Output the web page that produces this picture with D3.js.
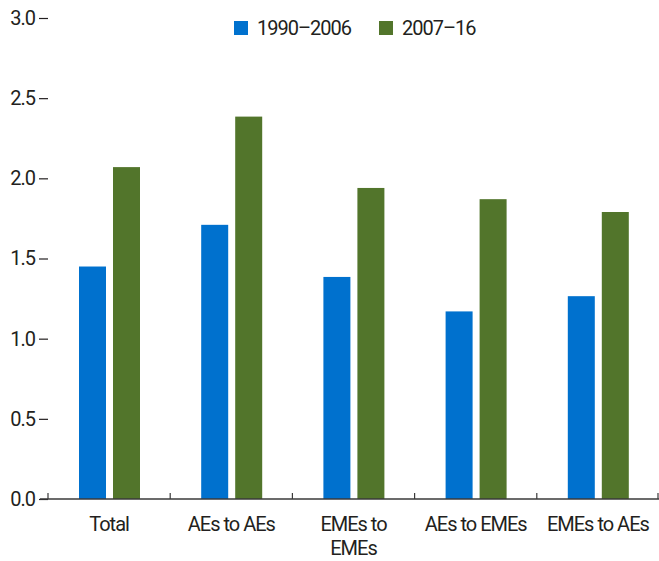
<!DOCTYPE html>
<html>
<head>
<meta charset="utf-8">
<script src="https://cdn.jsdelivr.net/npm/d3@7"></script>
<style>
  body { margin: 0; background: #fff; }
  text { font-family: "Liberation Sans Narrow", "Roboto", sans-serif; fill: #231f20; letter-spacing: -1px; }
</style>
</head>
<body>
<div id="chart"></div>
<script>
var categories = [["Total"], ["AEs to AEs"], ["EMEs to", "EMEs"], ["AEs to EMEs"], ["EMEs to AEs"]];
var series = ["1990–2006", "2007–16"];
var early = [1.45, 1.71, 1.385, 1.17, 1.265];
var late = [2.07, 2.385, 1.94, 1.87, 1.79];
var yTicks = [0, 0.5, 1, 1.5, 2, 2.5, 3];
var colors = ["#0071ce", "#52752b"];

var width = 659, height = 561;

var svg = d3.select("#chart")
    .append("svg")
        .attr("width", width)
        .attr("height", height);

var keys = categories.map(function(d) { return d.join(" "); });

var x = d3.scaleBand()
        .domain(keys)
        .range([48, 659]);

var x1 = d3.scaleBand()
        .domain(series)
        .range([31, 92])
        .paddingInner(0.206);

var y = d3.scaleLinear()
        .domain([0, 3])
        .range([499, 18]);

// y axis: labels with short dash ticks, no domain line
var yAxis = svg.append("g")
    .attr("transform", "translate(48,0)")
    .call(d3.axisLeft(y).tickValues(yTicks).tickSize(9).tickPadding(4).tickFormat(d3.format(".1f")));
yAxis.select(".domain").remove();
yAxis.selectAll(".tick line").attr("stroke", "#231f20").attr("stroke-width", 1.2);
yAxis.selectAll(".tick text").style("font-size", "20px").attr("fill", "#231f20");

// bars
var data = keys.map(function(k, i) { return {key: k, vals: [early[i], late[i]]}; });

var groups = svg.selectAll(".grp")
    .data(data)
  .enter().append("g")
    .attr("class", "grp")
    .attr("transform", function(d) { return "translate(" + x(d.key) + ",0)"; });

groups.selectAll("rect")
    .data(function(d) { return d.vals.map(function(v, j) { return {s: series[j], v: v, j: j}; }); })
  .enter().append("rect")
    .attr("x", function(d) { return x1(d.s); })
    .attr("width", x1.bandwidth())
    .attr("y", function(d) { return y(d.v); })
    .attr("height", function(d) { return y(0) - y(d.v); })
    .attr("fill", function(d) { return colors[d.j]; });

// x axis line and boundary ticks
var xg = svg.append("g");
xg.append("line")
    .attr("x1", 40).attr("x2", 659)
    .attr("y1", y(0)).attr("y2", y(0))
    .attr("stroke", "#3a3a3a").attr("stroke-width", 1.5);
xg.selectAll(".bt")
    .data(keys.concat(["end"]))
  .enter().append("line")
    .attr("x1", function(d, i) { return i < keys.length ? x(d) : x.range()[1] - 1; })
    .attr("x2", function(d, i) { return i < keys.length ? x(d) : x.range()[1] - 1; })
    .attr("y1", y(0) - 6).attr("y2", y(0))
    .attr("stroke", "#3a3a3a").attr("stroke-width", 1.2);

// category labels
var lab = svg.selectAll(".clab")
    .data(categories)
  .enter().append("text")
    .attr("class", "clab")
    .attr("text-anchor", "middle")
    .style("font-size", "20px")
    .attr("x", function(d, i) { return x(keys[i]) + x.bandwidth() / 2; })
    .attr("y", 531);
lab.selectAll("tspan")
    .data(function(d) { return d; })
  .enter().append("tspan")
    .attr("x", function() { return d3.select(this.parentNode).attr("x"); })
    .attr("dy", function(d, i) { return i ? 24 : 0; })
    .text(function(d) { return d; });

// legend
var legendX = [234, 379];
var leg = svg.selectAll(".leg")
    .data(series)
  .enter().append("g")
    .attr("class", "leg")
    .attr("transform", function(d, i) { return "translate(" + legendX[i] + ",21)"; });
leg.append("rect")
    .attr("width", 14).attr("height", 14)
    .attr("fill", function(d, i) { return colors[i]; });
leg.append("text")
    .attr("x", 23).attr("y", 13.5)
    .style("font-size", "20px")
    .text(function(d) { return d; });
</script>
</body>
</html>
